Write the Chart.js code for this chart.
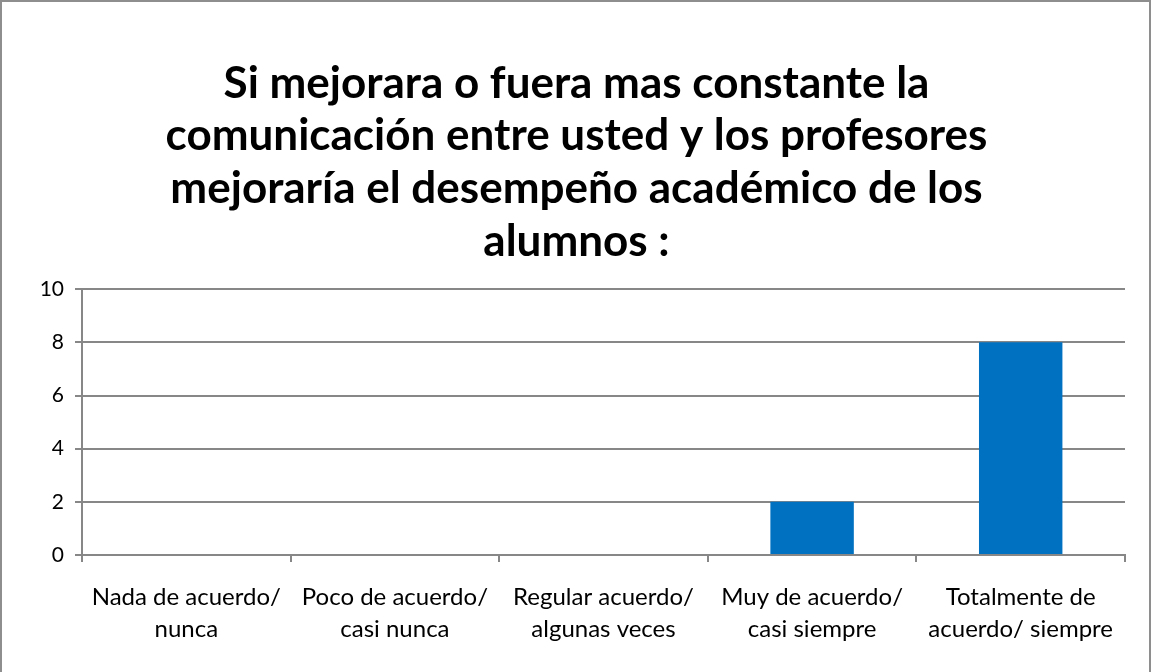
<!DOCTYPE html>
<html>
<head>
<meta charset="utf-8">
<script src="https://cdn.jsdelivr.net/npm/chart.js@4.4.1/dist/chart.umd.min.js"></script>
<style>
    html, body { margin: 0; padding: 0; background: #fff; }
    #wrap { position: absolute; left: 0; top: 0; width: 1153px; height: 672px; }
    #frame {
        position: absolute; left: 0; top: 0; width: 1151px; height: 690px;
        border: 2px solid #8e8e8e; box-sizing: border-box; pointer-events: none;
    }
</style>
</head>
<body>
<div id="wrap">
    <canvas id="chart" width="1153" height="672"></canvas>
    <div id="frame"></div>
</div>
<script>
// Chart data
const titleLines = [
    'Si mejorara o fuera mas constante la',
    'comunicación entre usted y los profesores',
    'mejoraría el desempeño académico de los',
    'alumnos :'
];
const categories = [
    ['Nada de acuerdo/', 'nunca'],
    ['Poco de acuerdo/', 'casi nunca'],
    ['Regular acuerdo/', 'algunas veces'],
    ['Muy de acuerdo/', 'casi siempre'],
    ['Totalmente de', 'acuerdo/ siempre']
];
const values = [0, 0, 0, 2, 8];
const yTicks = [0, 2, 4, 6, 8, 10];

const fontFamily = 'Lato, "Open Sans", sans-serif';
const gridColor = '#878787';

new Chart(document.getElementById('chart').getContext('2d'), {
    type: 'bar',
    data: {
        labels: categories,
        datasets: [{
            data: values,
            backgroundColor: '#0070C0',
            borderWidth: 0,
            barPercentage: 0.4,
            categoryPercentage: 1
        }]
    },
    options: {
        responsive: false,
        animation: false,
        // equal side padding keeps the title centred on the whole frame
        layout: { padding: { left: 28, right: 28, top: 0, bottom: 0 } },
        plugins: {
            legend: { display: false },
            tooltip: { enabled: false },
            title: {
                display: true,
                text: titleLines,
                color: '#000',
                font: { family: fontFamily, size: 44, weight: 'bold', lineHeight: 1.2 },
                padding: { top: 57, bottom: 21 }
            }
        },
        scales: {
            x: {
                afterFit: scale => { scale.height = 117; },
                border: { display: true, color: gridColor, width: 2 },
                grid: {
                    offset: true,
                    drawOnChartArea: false,
                    drawTicks: true,
                    tickLength: 7,
                    color: gridColor,
                    lineWidth: 2
                },
                ticks: {
                    color: '#000',
                    font: { family: fontFamily, size: 24, lineHeight: 1.3 },
                    padding: 20,
                    maxRotation: 0,
                    autoSkip: false
                }
            },
            y: {
                min: 0,
                max: 10,
                afterFit: scale => { scale.width = 54; },
                afterBuildTicks: scale => { scale.ticks = yTicks.map(v => ({ value: v })); },
                border: { display: true, color: gridColor, width: 2 },
                grid: {
                    color: gridColor,
                    lineWidth: 2,
                    drawTicks: true,
                    tickLength: 7
                },
                ticks: {
                    color: '#000',
                    font: { family: fontFamily, size: 21 },
                    padding: 11
                }
            }
        }
    }
});
</script>
</body>
</html>
